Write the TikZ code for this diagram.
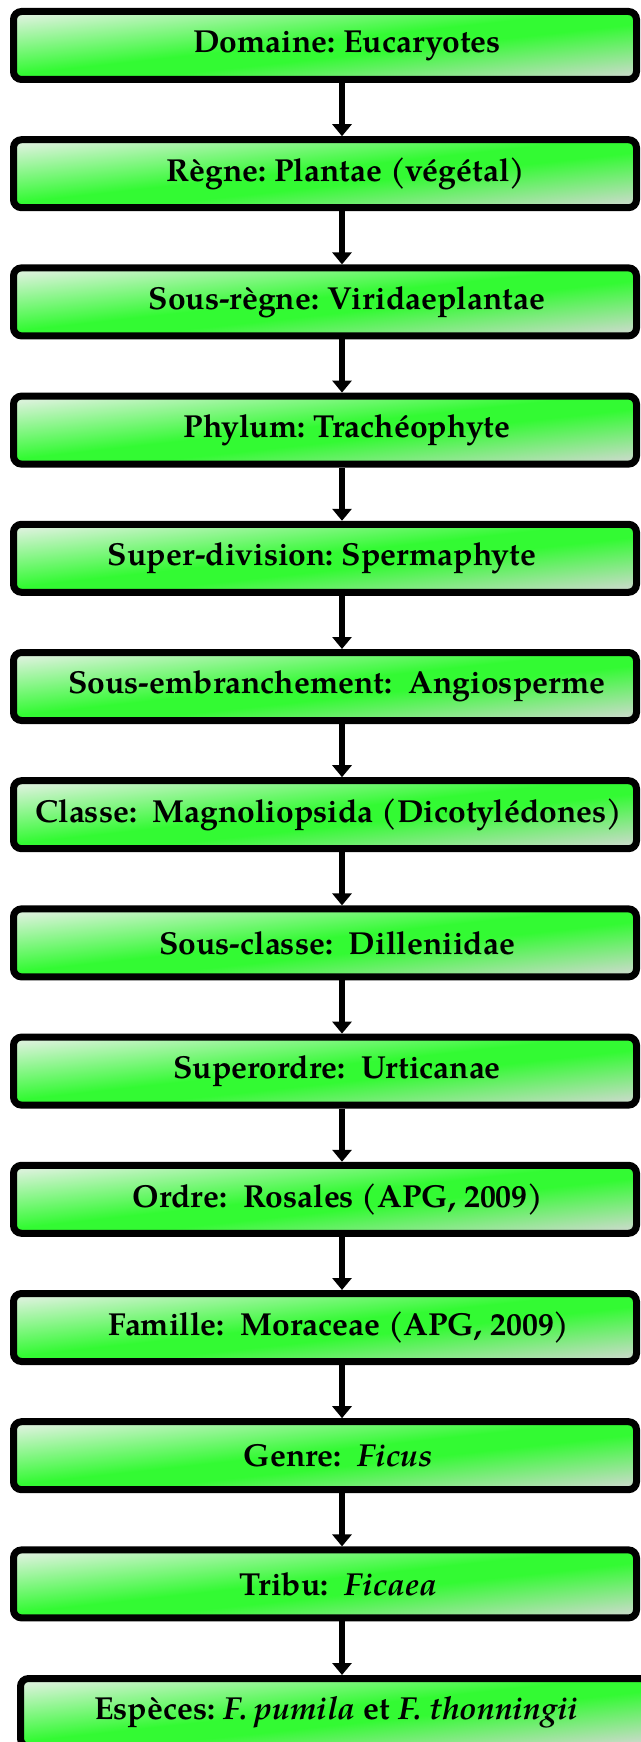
\documentclass[tikz,border=0pt]{standalone}
\usepackage{fontspec}
\setmainfont{texgyrepagella}[Extension=.otf,UprightFont=*-regular,BoldFont=*-bold,ItalicFont=*-italic,BoldItalicFont=*-bolditalic]
\usetikzlibrary{arrows.meta}
\definecolor{startc}{RGB}{216,242,216}
\definecolor{midg}{RGB}{51,250,51}
\definecolor{endc}{RGB}{196,220,196}
\pgfdeclareverticalshading{greenbox}{100bp}{color(0bp)=(endc); color(25bp)=(endc); color(45bp)=(midg); color(52bp)=(midg); color(75bp)=(startc); color(100bp)=(startc)}
\tikzset{
  rankbox/.style={draw=black, line width=7pt, rounded corners=8pt, shading=greenbox, shading angle=6.2,
    minimum width=623pt, minimum height=68pt, inner sep=0pt, text=black,
    font=\fontsize{31.8}{36}\selectfont\bfseries},
  link/.style={draw=black, line width=5.5pt, -{Triangle[width=19pt,length=12pt]}}
}
\begin{document}
\frenchspacing
\begin{tikzpicture}[x=1pt,y=-1pt]
\useasboundingbox (0,0) rectangle (640,1742);
\coordinate (ax) at (342,0);
\node[rankbox] (n1) at (325,45.5) {\hspace*{44pt}Domaine: Eucaryotes};
\node[rankbox] (n2) at (325,173.7) {\hspace*{42pt}Règne: Plantae (végétal)};
\node[rankbox] (n3) at (325,301.9) {\hspace*{44pt}Sous-règne: Viridaeplantae};
\node[rankbox] (n4) at (325,430.1) {\hspace*{44pt}Phylum: Trachéophyte};
\node[rankbox] (n5) at (325,558.3) {\hspace*{-6pt}Super-division: Spermaphyte};
\node[rankbox] (n6) at (325,686.5) {\hspace*{24pt}Sous-embranchement:~ Angiosperme};
\node[rankbox] (n7) at (325,814.7) {\hspace*{8pt}Classe:~ Magnoliopsida (Dicotylédones)};
\node[rankbox] (n8) at (325,942.9) {\hspace*{24pt}Sous-classe:~ Dilleniidae};
\node[rankbox] (n9) at (325,1071.1) {\hspace*{24pt}Superordre:~ Urticanae};
\node[rankbox] (n10) at (325,1199.3) {\hspace*{26pt}Ordre:~ Rosales (APG, 2009)};
\node[rankbox] (n11) at (325,1327.5) {\hspace*{28pt}Famille:~ Moraceae (APG, 2009)};
\node[rankbox] (n12) at (325,1455.7) {\hspace*{26pt}Genre:~ \textit{Ficus}};
\node[rankbox] (n13) at (325,1583.9) {\hspace*{26pt}Tribu:~ \textit{Ficaea}};
\node[rankbox, minimum width=627.5pt] (n14) at (334.25,1712.5) {\hspace*{4pt}Espèces: \textit{F. pumila} et \textit{F. thonningii}};
\foreach \a/\b in {n1/n2,n2/n3,n3/n4,n4/n5,n5/n6,n6/n7,n7/n8,n8/n9,n9/n10,n10/n11,n11/n12,n12/n13,n13/n14}
  \draw[link] (\a.south -| ax) -- (\b.north -| ax);
\end{tikzpicture}
\end{document}
